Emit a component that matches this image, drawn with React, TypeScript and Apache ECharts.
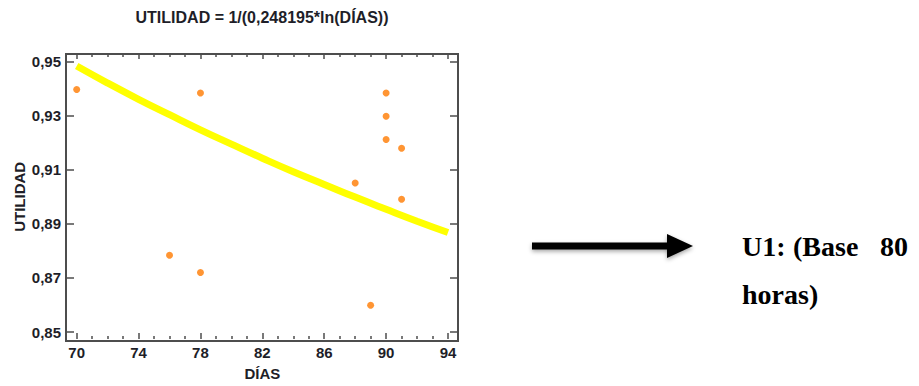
import React, { useEffect, useRef } from "react";
import * as echarts from "echarts";

// Observed data points (DÍAS, UTILIDAD)
const obsDays = [70, 76, 78, 78, 88, 89, 90, 90, 90, 91, 91];
const obsUtil = [0.9397, 0.8784, 0.9384, 0.872, 0.9051, 0.8599, 0.9384, 0.9298, 0.9212, 0.918, 0.8991];

// Fitted curve
const curveDays = [70, 72, 74, 76, 78, 80, 82, 84, 86, 88, 90, 92, 94];
const curveUtil = [0.9484, 0.9421, 0.9361, 0.9304, 0.9248, 0.9195, 0.9143, 0.9093, 0.9046, 0.8999, 0.8954, 0.891, 0.8868];

const titleText = "UTILIDAD = 1/(0,248195*ln(DÍAS))";
const xName = "DÍAS";
const yName = "UTILIDAD";
const noteLine1 = ["U1:", "(Base", "80"];
const noteLine2 = "horas)";

export default function App() {
  const ref = useRef<HTMLDivElement>(null);
  useEffect(() => {
    if (!ref.current) return;
    const chart = echarts.init(ref.current, null, { renderer: "svg" });
    const font = "Liberation Sans, Arial, sans-serif";
    const labelStyle = { fontFamily: font, fontSize: 15, fontWeight: "bold", color: "#1e1e28" };
    const frame = "#4d4d4d";
    const noteFont = "bold 28px Liberation Serif, Times New Roman, serif";
    const shadow = { shadowBlur: 4, shadowColor: "rgba(0,0,0,0.35)", shadowOffsetY: 2 };
    chart.setOption({
      animation: false,
      backgroundColor: "#ffffff",
      grid: { left: 76.7, right: 471, top: 61.7, bottom: 52, containLabel: false },
      xAxis: [
        {
          type: "value",
          position: "bottom",
          min: 70,
          max: 94,
          interval: 4,
          offset: 7,
          axisLine: { show: false },
          axisTick: { show: true, inside: true, length: 6, lineStyle: { color: frame, width: 1.5 } },
          minorTick: { show: true, splitNumber: 4, length: 3, lineStyle: { color: frame, width: 1.5 } },
          splitLine: { show: false },
          axisLabel: { ...labelStyle, margin: 6 },
          name: xName,
          nameLocation: "middle",
          nameGap: 27,
          nameTextStyle: { ...labelStyle, fontSize: 15 },
        },
        {
          type: "value",
          position: "top",
          min: 70,
          max: 94,
          interval: 4,
          offset: 7.7,
          axisLine: { show: false },
          axisTick: { show: true, inside: true, length: 5, lineStyle: { color: frame, width: 1.5 } },
          minorTick: { show: true, splitNumber: 4, length: 3, lineStyle: { color: frame, width: 1.5 } },
          splitLine: { show: false },
          axisLabel: { show: false },
        },
      ],
      yAxis: [
        {
          type: "value",
          position: "left",
          min: 0.85,
          max: 0.95,
          interval: 0.02,
          offset: 10.7,
          axisLine: { show: false },
          axisTick: { show: true, inside: true, length: 8, lineStyle: { color: frame, width: 1.5 } },
          splitLine: { show: false },
          axisLabel: {
            ...labelStyle,
            margin: 5,
            formatter: (v: number) => v.toFixed(2).replace(".", ","),
          },
          name: yName,
          nameLocation: "middle",
          nameGap: 39,
          nameRotate: 90,
          nameTextStyle: { ...labelStyle, fontSize: 15 },
        },
        {
          type: "value",
          position: "right",
          min: 0.85,
          max: 0.95,
          interval: 0.02,
          offset: 10,
          axisLine: { show: false },
          axisTick: { show: true, inside: true, length: 8, lineStyle: { color: frame, width: 1.5 } },
          splitLine: { show: false },
          axisLabel: { show: false },
        },
      ],
      series: [
        {
          type: "line",
          xAxisIndex: 0,
          yAxisIndex: 0,
          data: curveDays.map((d, i) => [d, curveUtil[i]]),
          smooth: true,
          showSymbol: false,
          clip: false,
          lineStyle: { color: "#ffff00", width: 7 },
          z: 2,
        },
        {
          type: "scatter",
          xAxisIndex: 0,
          yAxisIndex: 0,
          data: obsDays.map((d, i) => [d, obsUtil[i]]),
          symbol: "circle",
          symbolSize: 7,
          clip: false,
          itemStyle: { color: "#ff7a00" },
          z: 3,
        },
      ],
      graphic: [
        {
          type: "rect",
          shape: { x: 66, y: 54, width: 392, height: 287 },
          style: { fill: "none", stroke: frame, lineWidth: 2 },
          silent: true,
          z: 10,
        },
        {
          type: "text",
          x: 262,
          y: 9,
          style: {
            text: titleText,
            textAlign: "center",
            textVerticalAlign: "top",
            font: "bold 16px Liberation Sans, Arial, sans-serif",
            fill: "#1e1e28",
          },
        },
        {
          type: "rect",
          shape: { x: 532, y: 242.5, width: 137, height: 7 },
          style: { fill: "#000", ...shadow },
        },
        {
          type: "polygon",
          shape: { points: [[667, 234], [693, 246], [667, 258]] },
          style: { fill: "#000", ...shadow },
        },
        {
          type: "text",
          x: 742,
          y: 246,
          style: { text: noteLine1[0], textVerticalAlign: "middle", font: noteFont, fill: "#000" },
        },
        {
          type: "text",
          x: 793,
          y: 246,
          style: { text: noteLine1[1], textVerticalAlign: "middle", font: noteFont, fill: "#000" },
        },
        {
          type: "text",
          x: 880,
          y: 246,
          style: { text: noteLine1[2], textVerticalAlign: "middle", font: noteFont, fill: "#000" },
        },
        {
          type: "text",
          x: 742,
          y: 294,
          style: { text: noteLine2, textVerticalAlign: "middle", font: noteFont, fill: "#000" },
        },
      ],
    });
    return () => chart.dispose();
  }, []);
  return <div ref={ref} style={{ position: "fixed", left: 0, top: 0, width: 919, height: 386 }} />;
}
